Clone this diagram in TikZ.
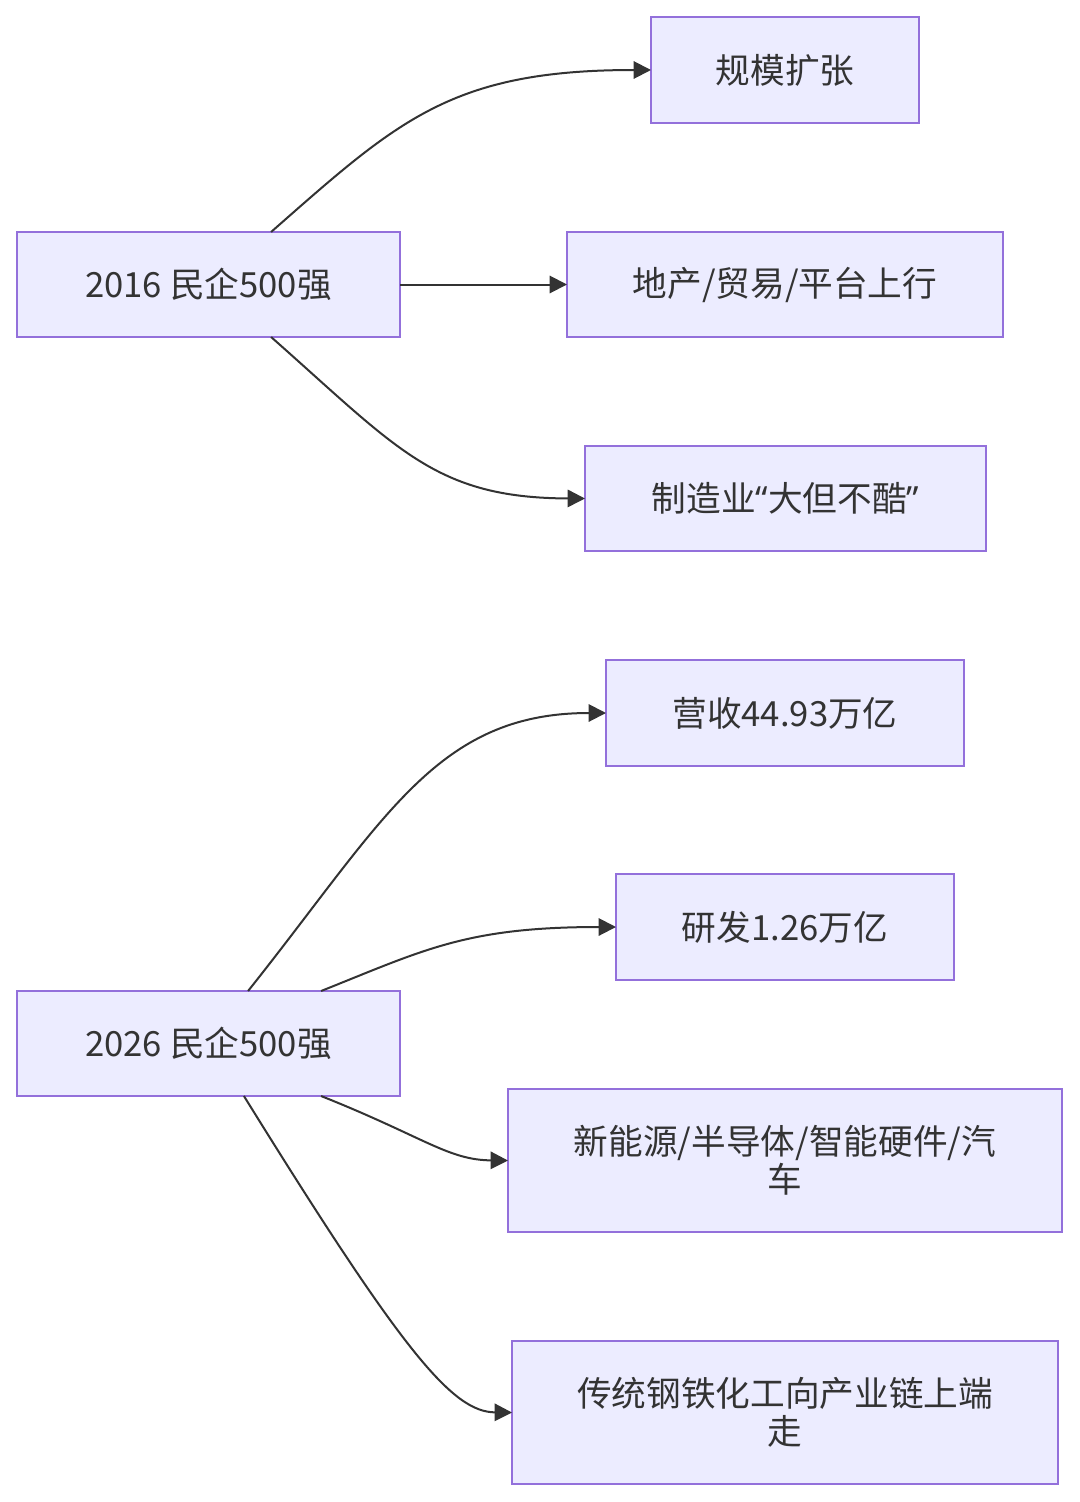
\documentclass[tikz,border=0pt]{standalone}
\usepackage{fontspec}
\setmainfont{Noto Sans CJK SC}
\newfontfamily\latinfont{Noto Sans}
\usetikzlibrary{arrows.meta}

\definecolor{boxfill}{HTML}{ECECFF}
\definecolor{boxline}{HTML}{9370DB}
\definecolor{linkgray}{HTML}{333333}

\tikzset{
  box/.style={draw=boxline, fill=boxfill, line width=1.5pt, inner sep=0pt, outer sep=0pt,
    align=center, text=linkgray, font=\fontsize{26}{28.5}\selectfont},
  link/.style={draw=linkgray, line width=1.5pt, -{Triangle[length=13pt,width=13pt]}}
}

\begin{document}
\begin{tikzpicture}[x=0.75pt,y=0.75pt,yscale=-1,xscale=1]
\useasboundingbox (0,0) rectangle (1080,1502);

% Text Node
\draw (208.5,284.5) node [box, minimum width=287.25pt, minimum height=78.75pt] (y2016) {2016 民企500强};
% Text Node
\draw (785,70) node [box, minimum width=201pt, minimum height=79.5pt] (scale) {规模扩张};
% Text Node
\draw (785,284.5) node [box, minimum width=327pt, minimum height=78.75pt] (estate) {地产/贸易/平台上行};
% Text Node
\draw (785.5,498.5) node [box, minimum width=300.75pt, minimum height=78.75pt] (manuf) {制造业{\latinfont “}大但不酷{\latinfont ”}};

% Text Node
\draw (208.5,1043.5) node [box, minimum width=287.25pt, minimum height=78.75pt] (y2026) {2026 民企500强};
% Text Node
\draw (785,713) node [box, minimum width=268.5pt, minimum height=79.5pt] (revenue) {营收44.93万亿};
% Text Node
\draw (785,927) node [box, minimum width=253.5pt, minimum height=79.5pt] (rnd) {研发1.26万亿};
% Text Node
\draw (785,1160.5) node [box, minimum width=415.5pt, minimum height=107.25pt] (newind) {新能源/半导体/智能硬件/汽\\车};
% Text Node
\draw (785,1412.5) node [box, minimum width=409.5pt, minimum height=107.25pt] (steel) {传统钢铁化工向产业链上端\\走};

%Curves 2016
\draw [link] (y2016.40.5) .. controls (398,120.5) and (451,70) .. (scale.west);
\draw [link] (y2016.east) -- (estate.west);
\draw [link] (y2016.-40.5) .. controls (398,449) and (435,498) .. (manuf.west);

%Curves 2026
\draw [link] (y2026.53) .. controls (385,819) and (436,713) .. (revenue.west);
\draw [link] (y2026.25.5) .. controls (424,950) and (466,927) .. (rnd.west);
\draw [link] (y2026.-25.5) .. controls (424,1137) and (448,1160) .. (newind.west);
\draw [link] (y2026.-56.7) .. controls (402,1351) and (452,1412) .. (steel.west);

\end{tikzpicture}
\end{document}
